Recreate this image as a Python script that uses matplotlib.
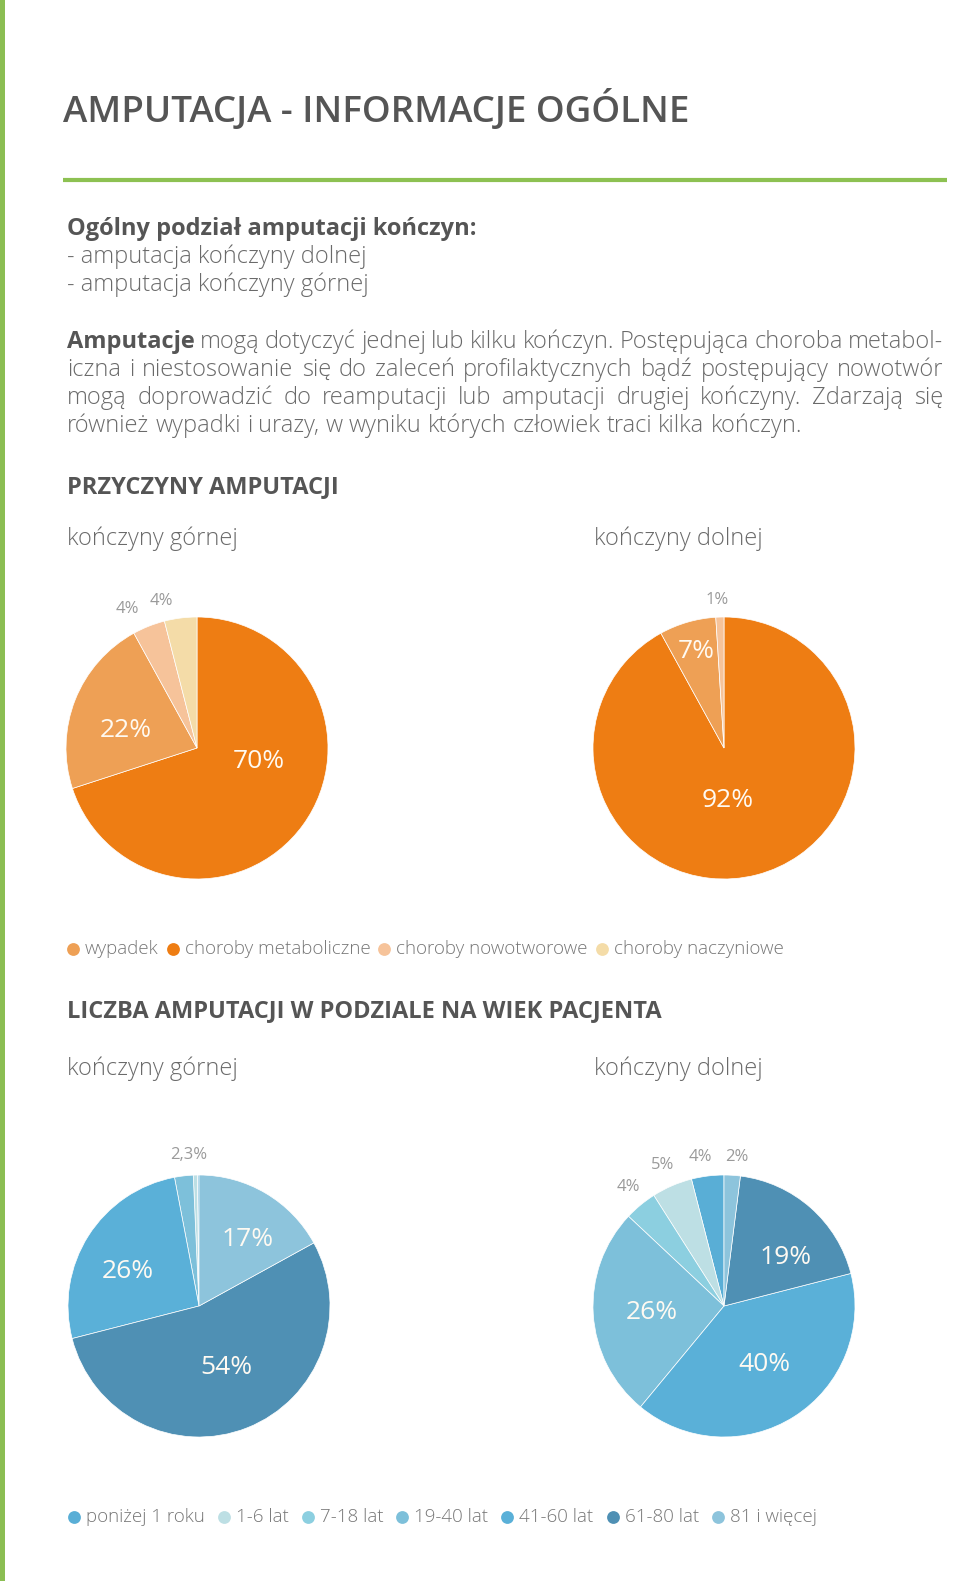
import matplotlib
matplotlib.use("Agg")
import matplotlib.pyplot as plt

plt.rcParams['font.family'] = ['Open Sans', 'DejaVu Sans']

W, H = 960, 1581

# --- data ---
cause_labels = ["wypadek", "choroby metaboliczne", "choroby nowotworowe", "choroby naczyniowe"]
cause_colors = ["#eea055", "#ee7d13", "#f6c39a", "#f4dca8"]
cause_upper = [22, 70, 4, 4]
cause_lower = [7, 92, 1, 0]
cause_order = [1, 0, 2, 3]   # drawn clockwise from 12 o'clock

age_labels = ["poniżej 1 roku", "1-6 lat", "7-18 lat", "19-40 lat",
              "41-60 lat", "61-80 lat", "81 i więcej"]
age_colors = ["#59aed6", "#bddfe4", "#8ccfe0", "#7dc0da",
              "#5ab0d8", "#4f90b4", "#8dc4dc"]
age_upper = [0.2, 0.5, 0, 2.3, 26, 54, 17]
age_lower = [4, 5, 4, 26, 40, 19, 2]

para = [
    "Amputacje mogą dotyczyć jednej lub kilku kończyn. Postępująca choroba metabol-",
    "iczna i niestosowanie się do zaleceń profilaktycznych bądź postępujący nowotwór",
    "mogą doprowadzić do reamputacji lub amputacji drugiej kończyny. Zdarzają się",
    "również wypadki i urazy, w wyniku których człowiek traci kilka kończyn.",
]

# label placement (dx, dy in pie radii, inside?)
lab_cause_up = {1: (0.47, -0.10, True), 0: (-0.54, 0.13, True),
                2: (-0.53, 1.06, False), 3: (-0.27, 1.12, False)}
lab_cause_lo = {1: (0.03, -0.40, True), 0: (-0.21, 0.74, True),
                2: (-0.05, 1.13, False)}
lab_age_up = {6: (0.37, 0.51, True), 5: (0.21, -0.47, True),
              4: (-0.54, 0.26, True), 3: (-0.08, 1.15, False)}
lab_age_lo = {6: (0.10, 1.14, False), 0: (-0.18, 1.14, False),
              1: (-0.47, 1.08, False), 2: (-0.73, 0.91, False),
              3: (-0.55, -0.05, True), 4: (0.31, -0.45, True),
              5: (0.47, 0.37, True)}

DARK = "#555555"
BODY = "#6a6a6a"
GRAY = "#9a9a9a"

fig = plt.figure(figsize=(W / 100, H / 100), dpi=100)
bg = fig.add_axes([0, 0, 1, 1])
bg.set_xlim(0, W)
bg.set_ylim(H, 0)
bg.axis('off')

# side bar and rule
bg.axvspan(0, 5, color="#8bbe53", lw=0)
bg.plot([63, 947], [180, 180], color="#8dc152", lw=3, solid_capstyle='butt')

bg.text(63, 122, "AMPUTACJA - INFORMACJE OGÓLNE", fontsize=26.5, fontweight='semibold', color=DARK, va='baseline')

bg.text(67, 235, "Ogólny podział amputacji kończyn:", fontsize=17, fontweight='bold', color=DARK, va='baseline')
bg.text(67, 263, "- amputacja kończyny dolnej", fontsize=17, fontweight='light', color=BODY, va='baseline')
bg.text(67, 291, "- amputacja kończyny górnej", fontsize=17, fontweight='light', color=BODY, va='baseline')

r = fig.canvas.get_renderer()


def justify(line, y, x0, x1, size, bold_first=False, last=False):
    words = line.split()
    texts = []
    for i, w in enumerate(words):
        bold = bold_first and i == 0
        t = bg.text(0, y, w, fontsize=size, va='baseline',
                    fontweight='bold' if bold else 'light',
                    color=DARK if bold else BODY)
        texts.append(t)
    widths = [t.get_window_extent(r).width for t in texts]
    if last:
        gap = 0.26 * size * 100 / 72
    else:
        gap = (x1 - x0 - sum(widths)) / (len(words) - 1)
    x = x0
    for t, wd in zip(texts, widths):
        t.set_x(x)
        x += wd + gap


for i, line in enumerate(para):
    justify(line, 348 + 28 * i, 67, 943, 17, bold_first=(i == 0), last=(i == len(para) - 1))

bg.text(67, 493, "PRZYCZYNY AMPUTACJI", fontsize=17, fontweight='bold', color=DARK, va='baseline')
bg.text(67, 1017, "LICZBA AMPUTACJI W PODZIALE NA WIEK PACJENTA", fontsize=17, fontweight='bold', color=DARK, va='baseline')
for y in (545, 1075):
    bg.text(67, y, "kończyny górnej", fontsize=17, fontweight='light', color=BODY, va='baseline')
    bg.text(594, y, "kończyny dolnej", fontsize=17, fontweight='light', color=BODY, va='baseline')


def pie(cx, cy, R, vals, colors, order, labs, counterclock):
    ax = fig.add_axes([(cx - R) / W, 1 - (cy + R) / H, 2 * R / W, 2 * R / H])
    v = [vals[i] for i in order if vals[i] > 0]
    c = [colors[i] for i in order if vals[i] > 0]
    ax.pie(v, colors=c, startangle=90, counterclock=counterclock, radius=1,
           wedgeprops=dict(edgecolor='white', linewidth=0.5))
    ax.set_xlim(-1, 1)
    ax.set_ylim(-1, 1)
    ax.set_aspect('equal')
    ax.axis('off')
    for i, (dx, dy, inside) in labs.items():
        s = f"{vals[i]:g}%".replace('.', ',')
        if inside:
            ax.text(dx, dy, s, fontsize=19, color='#fffaf2', ha='center', va='center')
        else:
            ax.text(dx, dy, s, fontsize=12, color=GRAY, ha='center', va='center')
    return ax


pie(197, 748, 131, cause_upper, cause_colors, cause_order, lab_cause_up, False)
pie(724, 748, 131, cause_lower, cause_colors, cause_order, lab_cause_lo, False)
pie(199, 1306, 131, age_upper, age_colors, list(range(7)), lab_age_up, True)
pie(724, 1306, 131, age_lower, age_colors, list(range(7)), lab_age_lo, True)


def legend(labels, colors, y, x0, gap, size=13.5):
    x = x0
    for lab, col in zip(labels, colors):
        bg.scatter([x], [y], s=85, color=col, lw=0)
        t = bg.text(x + 12, y, lab, fontsize=size, fontweight='light', color="#777777", va='center')
        x = x + 12 + t.get_window_extent(r).width + gap


legend(cause_labels, cause_colors, 949, 73, 14)
legend(age_labels, age_colors, 1517, 74, 19)

fig.savefig("out.png", dpi=100)
